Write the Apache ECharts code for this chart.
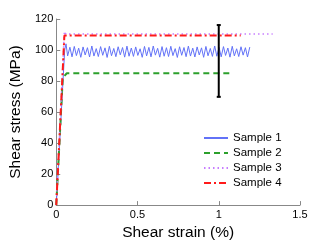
<!DOCTYPE html>
<html>
<head>
<meta charset="utf-8">
<script src="https://cdn.jsdelivr.net/npm/echarts@6/dist/echarts.min.js"></script>
<style>html,body{margin:0;padding:0;background:#fff;}#c{width:332px;height:246px;}</style>
</head>
<body>
<div id="c"></div>
<script>
var seriesNames = ['Sample 1', 'Sample 2', 'Sample 3', 'Sample 4'];
var xTicks = [0, 0.5, 1, 1.5];
var yTicks = [0, 20, 40, 60, 80, 100, 120];

// Sample 1: rise then oscillating plateau
var s1Strain = [0, 0.052, 0.060,
  0.070,0.084,0.097,0.111,0.124,0.138,0.151,0.165,0.178,0.192,
  0.205,0.219,0.232,0.246,0.259,0.273,0.286,0.300,0.313,0.327,
  0.340,0.354,0.367,0.381,0.394,0.408,0.421,0.435,0.448,0.462,
  0.475,0.489,0.502,0.516,0.529,0.543,0.556,0.570,0.583,0.597,
  0.610,0.624,0.637,0.651,0.664,0.678,0.691,0.705,0.718,0.732,
  0.745,0.759,0.772,0.786,0.799,0.813,0.826,0.840,0.853,0.867,
  0.880,0.894,0.907,0.921,0.934,0.948,0.961,0.975,0.988,1.002,
  1.015,1.029,1.042,1.056,1.069,1.083,1.096,1.110,1.123,1.137,
  1.150,1.164,1.177,1.191,1.204,1.218,1.231,1.245];
var s1Stress = [0, 100, 104,
  96.2,101.8,95.6,102.3,96.4,101.2,95.3,102.0,96.8,101.5,
  95.5,102.6,96.1,100.9,95.8,102.2,96.6,101.4,95.2,102.4,
  96.3,101.0,95.7,102.1,96.9,101.6,95.4,102.5,96.0,101.3,
  95.9,102.0,96.5,100.8,95.3,102.3,96.2,101.7,95.6,102.6,
  96.7,101.1,95.4,102.2,96.0,101.5,95.8,102.4,96.4,100.9,
  95.2,102.1,96.6,101.6,95.7,102.5,96.1,101.2,95.5,102.0,
  96.8,101.4,95.3,102.3,96.3,101.0,95.9,102.6,96.0,101.7,
  95.6,102.2,96.5,101.3,95.4,102.4,96.2,100.8,95.8,102.1,
  96.7,101.5,95.5,101.9];

var s2Strain = [0, 0.040, 0.050, 0.065, 1.086];
var s2Stress = [0, 82, 83, 85, 85];

var s3Strain = [0, 0.050, 0.060, 1.332];
var s3Stress = [0, 112, 110.3, 110.3];

var s4Strain = [0, 0.050, 1.135];
var s4Stress = [0, 109.3, 109.3];

// error bar: [strain, low, high]
var errStrain = [1];
var errLow = [69.8];
var errHigh = [116.1];

function pairs(xs, ys) { return xs.map(function (x, i) { return [x, ys[i]]; }); }

var font = 'Liberation Sans, Arial, sans-serif';
var chart = echarts.init(document.getElementById('c'), null, {renderer: 'canvas'});
chart.setOption({
  animation: false,
  backgroundColor: '#fff',
  grid: {left: 44, right: 32, top: 19, bottom: 34, containLabel: false},
  legend: {
    data: seriesNames,
    left: 198, top: 127, orient: 'vertical',
    itemWidth: 24, itemHeight: 12, itemGap: 3,
    itemStyle: {opacity: 0},
    textStyle: {fontFamily: font, fontSize: 11.5, color: '#000'},
    backgroundColor: 'transparent'
  },
  xAxis: {
    type: 'value', min: xTicks[0], max: xTicks[xTicks.length - 1], interval: 0.5,
    name: 'Shear strain (%)', nameLocation: 'middle', nameGap: 19,
    nameTextStyle: {fontFamily: font, fontSize: 15.5, color: '#000'},
    axisLine: {lineStyle: {color: '#888', width: 1}},
    axisTick: {inside: true, length: 4, lineStyle: {color: '#888'}},
    axisLabel: {fontFamily: font, fontSize: 11, color: '#000', margin: 4},
    splitLine: {show: false}
  },
  yAxis: {
    type: 'value', min: yTicks[0], max: yTicks[yTicks.length - 1], interval: 20,
    name: 'Shear stress (MPa)', nameLocation: 'middle', nameGap: 29,
    nameTextStyle: {fontFamily: font, fontSize: 15.5, color: '#000'},
    axisLine: {show: true, lineStyle: {color: '#888', width: 1}},
    axisTick: {show: true, inside: true, length: 4, lineStyle: {color: '#888'}},
    axisLabel: {fontFamily: font, fontSize: 11, color: '#000', margin: 3},
    splitLine: {show: false}
  },
  series: [
    {name: seriesNames[0], type: 'line', symbol: 'none', data: pairs(s1Strain, s1Stress),
     lineStyle: {color: '#6272f7', width: 1}, itemStyle: {color: '#6272f7'}},
    {name: seriesNames[1], type: 'line', symbol: 'none', data: pairs(s2Strain, s2Stress),
     lineStyle: {color: '#2ca02c', width: 2, type: [6, 4]}, itemStyle: {color: '#2ca02c'}},
    {name: seriesNames[2], type: 'line', symbol: 'none', data: pairs(s3Strain, s3Stress),
     lineStyle: {color: '#c77dff', width: 1.5, type: [1.5, 3]}, itemStyle: {color: '#c77dff'}},
    {name: seriesNames[3], type: 'line', symbol: 'none', data: pairs(s4Strain, s4Stress),
     lineStyle: {color: '#ff1a1a', width: 2, type: [7, 3, 2, 3]}, itemStyle: {color: '#ff1a1a'}},
    {name: 'err', type: 'custom', data: errStrain.map(function (x, i) { return [x, errLow[i], errHigh[i]]; }),
     renderItem: function (params, api) {
       var lo = api.coord([api.value(0), api.value(1)]);
       var hi = api.coord([api.value(0), api.value(2)]);
       var w = 2;
       var st = {stroke: '#000', lineWidth: 2};
       return {type: 'group', children: [
         {type: 'line', shape: {x1: lo[0], y1: lo[1], x2: hi[0], y2: hi[1]}, style: st},
         {type: 'line', shape: {x1: lo[0] - w, y1: lo[1], x2: lo[0] + w, y2: lo[1]}, style: st},
         {type: 'line', shape: {x1: hi[0] - w, y1: hi[1], x2: hi[0] + w, y2: hi[1]}, style: st}
       ]};
     }, z: 10}
  ]
});
</script>
</body>
</html>
